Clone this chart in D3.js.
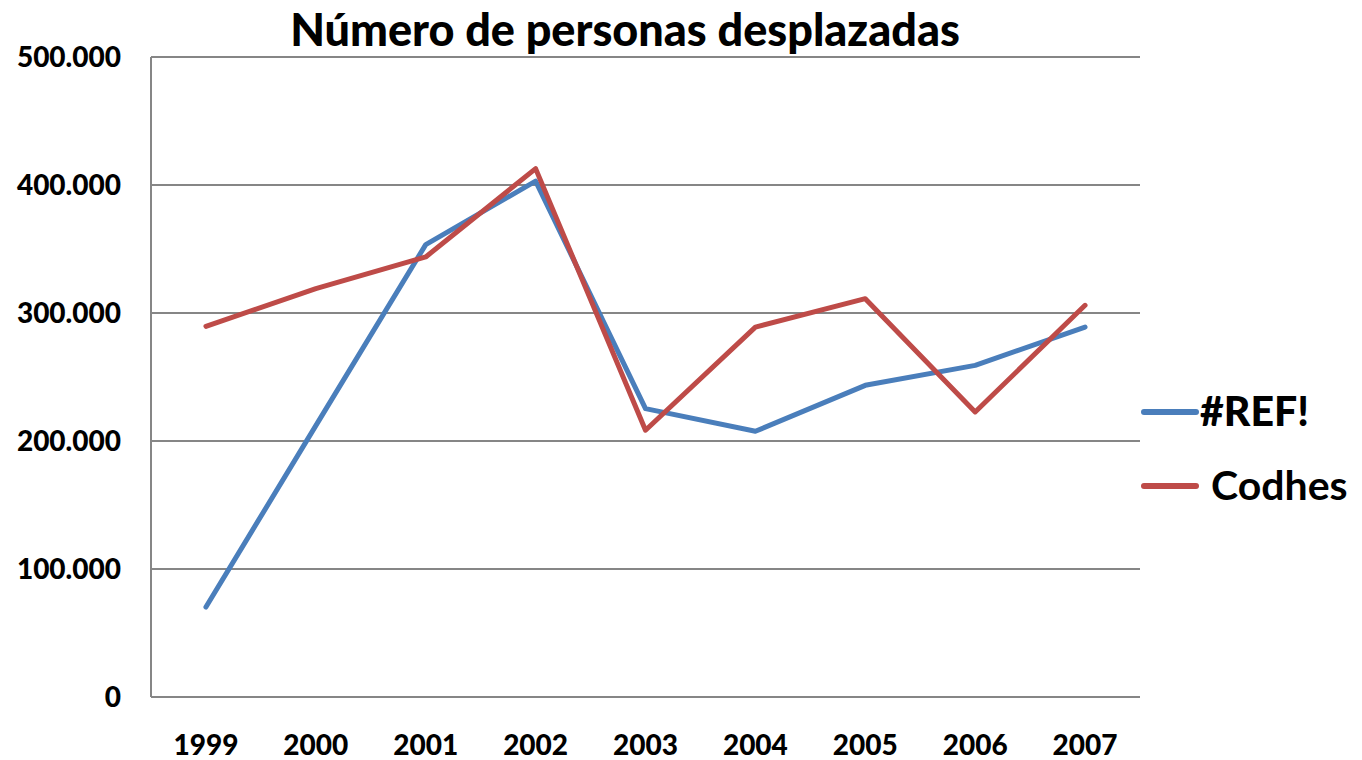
<!DOCTYPE html>
<html>
<head>
<meta charset="utf-8">
<script src="https://cdn.jsdelivr.net/npm/d3@7"></script>
<style>
  body { margin: 0; background: #fff; }
  text { font-family: Lato, "Open Sans", sans-serif; font-weight: 900; fill: #000; }
</style>
</head>
<body>
<div id="chart"></div>
<script>
// data
const years = ["1999", "2000", "2001", "2002", "2003", "2004", "2005", "2006", "2007"];
const refValues = [70300, 212000, 353400, 403000, 225300, 207600, 243500, 259100, 289000];
const codhesValues = [289600, 319000, 343800, 412800, 208400, 289000, 311200, 222700, 306000];
const seriesNames = ["#REF!", "Codhes"];
const seriesColors = ["#4A7EBB", "#BE4B48"];
const yTicks = [0, 100000, 200000, 300000, 400000, 500000];

const width = 1362;
const height = 760;
const margin = { top: 57, right: 222, bottom: 63, left: 151 };

const svg = d3.select("#chart")
    .append("svg")
    .attr("width", width)
    .attr("height", height);

const x = d3.scaleBand()
    .domain(years)
    .range([margin.left, width - margin.right]);

const y = d3.scaleLinear()
    .domain([0, 500000])
    .range([height - margin.bottom, margin.top]);

// gridlines
svg.append("g")
    .selectAll("line")
    .data(yTicks)
    .join("line")
    .attr("x1", margin.left)
    .attr("x2", width - margin.right)
    .attr("y1", d => y(d))
    .attr("y2", d => y(d))
    .attr("stroke", "#868686")
    .attr("stroke-width", 2);

// left axis line
svg.append("line")
    .attr("x1", margin.left)
    .attr("x2", margin.left)
    .attr("y1", y(500000))
    .attr("y2", y(0))
    .attr("stroke", "#868686")
    .attr("stroke-width", 2);

// y tick labels
const fmt = d => d === 0 ? "0" : d3.format(",")(d).replace(/,/g, ".");
svg.append("g")
    .selectAll("text")
    .data(yTicks)
    .join("text")
    .attr("x", 121)
    .attr("y", d => y(d))
    .attr("dy", "0.35em")
    .attr("text-anchor", "end")
    .style("font-size", "28px")
    .text(fmt);

// x labels
svg.append("g")
    .selectAll("text")
    .data(years)
    .join("text")
    .attr("x", d => x(d) + x.bandwidth() / 2)
    .attr("y", 745)
    .attr("dy", "0.35em")
    .attr("text-anchor", "middle")
    .style("font-size", "28px")
    .text(d => d);

// lines
const line = d3.line()
    .x((d, i) => x(years[i]) + x.bandwidth() / 2)
    .y(d => y(d));

[refValues, codhesValues].forEach((vals, i) => {
    svg.append("path")
        .datum(vals)
        .attr("d", line)
        .attr("fill", "none")
        .attr("stroke", seriesColors[i])
        .attr("stroke-width", 5)
        .attr("stroke-linejoin", "round")
        .attr("stroke-linecap", "round");
});

// title
svg.append("text")
    .attr("x", 625)
    .attr("y", 46)
    .attr("text-anchor", "middle")
    .style("font-size", "45px")
    .text("Número de personas desplazadas");

// legend
const legendY = [412, 486];
const legend = svg.append("g");
seriesNames.forEach((name, i) => {
    legend.append("line")
        .attr("x1", 1144)
        .attr("x2", 1196)
        .attr("y1", legendY[i])
        .attr("y2", legendY[i])
        .attr("stroke", seriesColors[i])
        .attr("stroke-width", 6)
        .attr("stroke-linecap", "round");
    legend.append("text")
        .attr("x", i === 0 ? 1200 : 1211)
        .attr("y", legendY[i])
        .attr("dy", "0.35em")
        .style("font-size", "41px")
        .style("font-weight", i === 0 ? 900 : 700)
        .text(name);
});
</script>
</body>
</html>
